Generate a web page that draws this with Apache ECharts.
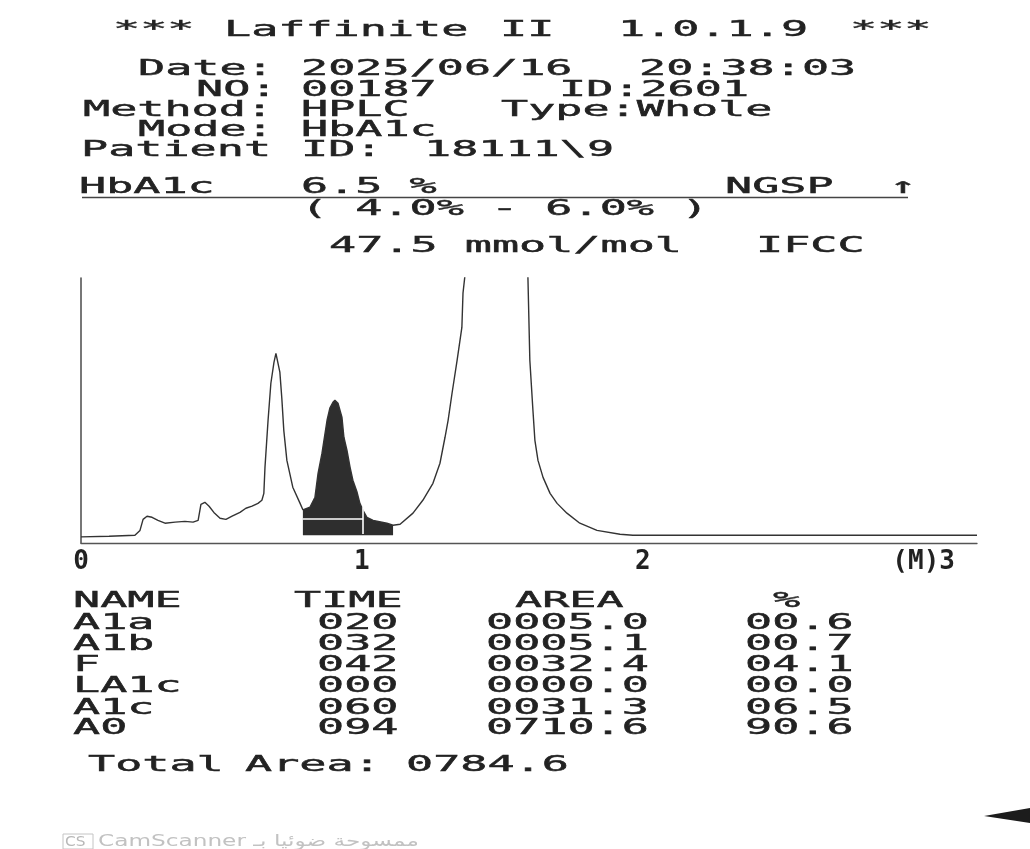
<!DOCTYPE html>
<html><head><meta charset="utf-8">
<script src="https://cdn.jsdelivr.net/npm/echarts@6/dist/echarts.min.js"></script>
<style>html,body{margin:0;padding:0;background:#fff}#c{width:1030px;height:849px}</style>
</head><body><div id="c"></div>
<script>
// ---------------- data ----------------
const timeMin = [0.000,0.100,0.192,0.210,0.221,0.235,0.253,0.274,0.299,0.335,0.370,0.399,0.417,0.427,0.441,0.456,0.473,0.495,0.516,0.538,0.566,0.587,0.609,0.630,0.644,0.651,0.655,0.666,0.676,0.687,0.694,0.701,0.708,0.715,0.722,0.733,0.754,0.780,0.790,0.815,0.833,0.844,0.858,0.865,0.876,0.886,0.897,0.904,0.915,0.929,0.936,0.947,0.958,0.968,0.983,0.993,1.004,1.018,1.040,1.089,1.111,1.136,1.182,1.217,1.253,1.278,1.296,1.307,1.321,1.339,1.356,1.360,1.367,1.478,1.591,1.598,1.609,1.616,1.627,1.645,1.670,1.695,1.730,1.776,1.837,1.919,1.965,3.190];
const signal  = [-0.6,-0.4,0.0,1.9,6.2,7.4,7.0,5.8,4.7,5.1,5.4,5.1,5.8,12.0,12.8,11.3,8.9,6.6,6.2,7.4,8.9,10.5,11.3,12.4,13.6,16.3,26.4,44.7,59.1,67.2,70.7,70.0,63.4,53.2,40.8,29.1,18.7,12.4,9.9,10.9,14.8,24.1,31.9,36.9,44.7,49.4,51.7,52.5,51.3,45.9,38.1,33.0,26.4,21.4,16.7,12.4,9.7,7.0,5.8,4.7,3.9,4.3,8.6,13.6,20.2,28.0,38.1,44.7,55.2,68.0,80.8,94.1,101.0,380,101.0,68.0,48.6,36.9,29.1,22.5,16.3,12.4,8.6,4.7,1.9,0.4,0.0,0.0];
const a1cWindow = [0.790, 1.111];          // shaded A1c integration window (min)
const a1cBaseLevel = 6.6;                 // white integration marker level
const a1cSplitTime = 1.004;               // white vertical split marker
const a1cSplitRange = [0.5, 10.9];
const xTickValues = [0, 1, 2, 3];
const xTickLabels = ['0', '1', '2', '(M)3'];

const titleParts = ['***', 'Laffinite', 'II', '1.0.1.9', '***'];
const infoDate = ['Date:', '2025/06/16', '20:38:03'];
const infoNo = ['NO:', '00187', 'ID:2601'];
const infoMethod = ['Method:', 'HPLC', 'Type:Whole'];
const infoMode = ['Mode:', 'HbA1c'];
const infoPatient = ['Patient', 'ID:', '18111\\9'];
const resultLine = ['HbA1c', '6.5 %', 'NGSP', '\u2191'];
const rangeLine = ['( 4.0% - 6.0% )'];
const ifccLine = ['47.5 mmol/mol', 'IFCC'];

const tableHeaders = ['NAME', 'TIME', 'AREA', '%'];
const peakNames = ['A1a', 'A1b', 'F', 'LA1c', 'A1c', 'A0'];
const peakTimes = [20, 32, 42, 0, 60, 94];
const peakAreas = [5.0, 5.1, 32.4, 0.0, 31.3, 710.6];
const peakPercents = [0.6, 0.7, 4.1, 0.0, 6.5, 90.6];
const totalAreaLabel = ['Total', 'Area:'];
const totalArea = 784.6;

// ---------------- styling / layout ----------------
const INK = '#222';
const FS = 22, SX = 2.05, BEAR = 4;
function txt(s, inkLeft, yc, o) {
  o = o || {};
  return {
    type: 'text', x: inkLeft - BEAR, y: yc, scaleX: o.sx || SX, scaleY: 1, silent: true, z: 100,
    style: {
      text: s, x: 0, y: 0, fill: o.fill || INK,
      stroke: o.noStroke ? null : (o.fill || INK), lineWidth: o.noStroke ? 0 : 0.45,
      font: (o.fs || FS) + 'px ' + (o.family || '"DejaVu Sans Mono"'),
      align: 'left', verticalAlign: 'middle', textAlign: 'left', textVerticalAlign: 'middle'
    }
  };
}
const pad = (s, n) => String(s).padStart(n, '0');

const g = [];
// title
[117, 228, 504, 622, 854].forEach((x, i) => g.push(txt(titleParts[i], x, 30)));
// info block
const VC = 305;
[[infoDate, [142, VC, 643], 69],
 [infoNo, [200, VC, 563], 90],
 [infoMethod, [87, VC, 505], 110],
 [infoMode, [142, VC], 130],
 [infoPatient, [85, VC, 428], 150],
 [resultLine, [83, VC, 729, 893], 187],
 [rangeLine, [VC], 209],
 [ifccLine, [333, 760], 246]
].forEach(([arr, xs, y]) => arr.forEach((s, i) => g.push(txt(s, xs[i], y))));
g.push({ type: 'line', silent: true, z: 99, shape: { x1: 82, y1: 197.5, x2: 908, y2: 197.5 }, style: { stroke: '#444', lineWidth: 1.6 } });

// table
const colX = [77, 298, 519, 777];
tableHeaders.forEach((s, i) => g.push(txt(s, colX[i], 601)));
const rowY = [623, 644, 665, 686.5, 708, 728];
peakNames.forEach((n, i) => {
  g.push(txt(n, 77, rowY[i]));
  g.push(txt(pad(peakTimes[i], 3), 321, rowY[i]));
  g.push(txt(pad(peakAreas[i].toFixed(1), 6), 490, rowY[i]));
  g.push(txt(pad(peakPercents[i].toFixed(1), 4), 749, rowY[i]));
});
g.push(txt(totalAreaLabel[0], 92, 765));
g.push(txt(totalAreaLabel[1], 249, 765));
g.push(txt(pad(totalArea.toFixed(1), 6), 410, 765));

// scanner watermark + edge smudge
g.push(txt('CS', 69, 842, { fs: 14, sx: 1.1, fill: '#b8b8b8', family: '"DejaVu Sans"', noStroke: true }));
g.push(txt('CamScanner \u0645\u0645\u0633\u0648\u062d\u0629 \u0636\u0648\u0626\u064a\u0627 \u0628\u0640', 102, 842, { fs: 16, sx: 1.45, fill: '#c2c2c2', family: '"DejaVu Sans"', noStroke: true }));
g.push({ type: 'rect', silent: true, shape: { x: 63, y: 834, width: 30, height: 15 }, style: { fill: 'none', stroke: '#c4c4c4', lineWidth: 1 } });
g.push({ type: 'polygon', silent: true, shape: { points: [[984, 816], [1030, 808], [1030, 823]] }, style: { fill: '#1c1c1c' } });

// ---------------- chart ----------------
const curve = timeMin.map((t, i) => [t, signal[i]]);
const a1cPart = curve.filter(p => p[0] >= a1cWindow[0] - 1e-9 && p[0] <= a1cWindow[1] + 1e-9);

const chart = echarts.init(document.getElementById('c'), null, { renderer: 'canvas' });
chart.setOption({
  backgroundColor: '#ffffff',
  animation: false,
  grid: { left: 81, right: 53, top: 278, bottom: 306, containLabel: false },
  xAxis: {
    type: 'value', min: 0, max: 3.19, interval: 1,
    axisLine: { onZero: false, lineStyle: { color: '#555', width: 1.3 } },
    axisTick: { show: false },
    splitLine: { show: false },
    axisLabel: {
      margin: 6, color: INK, fontFamily: '"DejaVu Sans Mono"', fontSize: 26, fontWeight: 'bold',
      formatter: v => { const k = xTickValues.indexOf(Math.round(v * 1000) / 1000); return k < 0 ? '' : xTickLabels[k]; }
    }
  },
  yAxis: {
    type: 'value', min: -3, max: 100,
    axisLine: { show: true, onZero: false, lineStyle: { color: '#555', width: 1.6 } },
    axisTick: { show: false }, axisLabel: { show: false }, splitLine: { show: false }
  },
  series: [
    {
      name: 'A1c', type: 'line', data: a1cPart, showSymbol: false, silent: true, z: 2,
      lineStyle: { width: 0 }, areaStyle: { color: '#2e2e2e', opacity: 1 },
      markLine: {
        silent: true, symbol: 'none', label: { show: false },
        lineStyle: { color: '#ffffff', width: 1.6, type: 'solid' },
        data: [
          [{ coord: [a1cWindow[0], a1cBaseLevel] }, { coord: [a1cSplitTime, a1cBaseLevel] }],
          [{ coord: [a1cSplitTime, a1cSplitRange[0]] }, { coord: [a1cSplitTime, a1cSplitRange[1]] }]
        ]
      }
    },
    {
      name: 'signal', type: 'line', data: curve, showSymbol: false, silent: true, z: 3,
      lineStyle: { color: '#333', width: 1.4 }
    }
  ],
  graphic: { elements: g }
});
</script></body></html>
